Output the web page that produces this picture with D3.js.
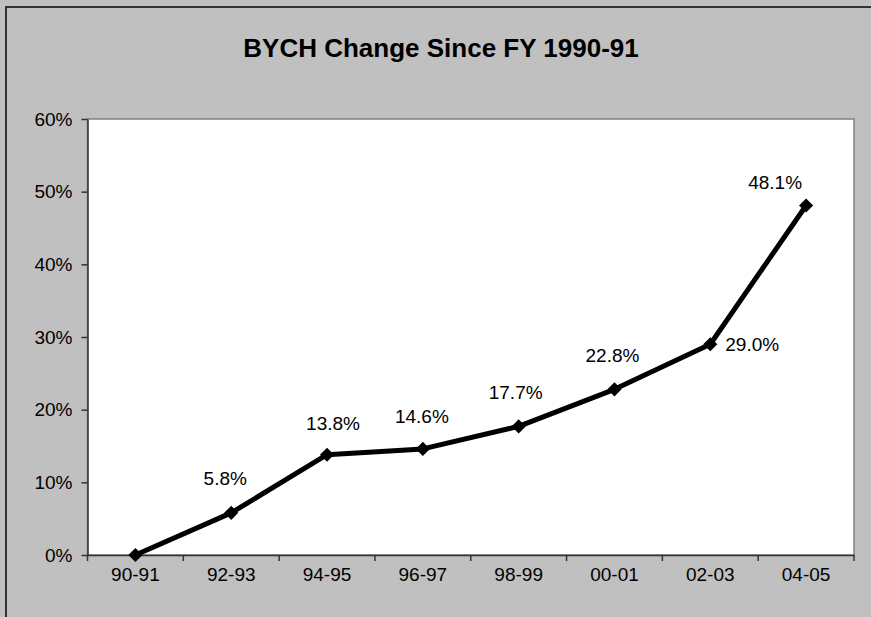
<!DOCTYPE html>
<html>
<head>
<meta charset="utf-8">
<script src="https://cdn.jsdelivr.net/npm/d3@7"></script>
<style>
  html, body { margin: 0; padding: 0; background: #c0c0c0; overflow: hidden; }
  svg { display: block; font-family: Arial, "Liberation Sans", sans-serif; }
</style>
</head>
<body>
<svg id="chart" width="871" height="617"></svg>
<script>
// Chart data
const categories = ['90-91', '92-93', '94-95', '96-97', '98-99', '00-01', '02-03', '04-05'];
const changeValues = [0.0, 0.058, 0.138, 0.146, 0.177, 0.228, 0.290, 0.481];
const yTicks = [0, 0.1, 0.2, 0.3, 0.4, 0.5, 0.6];

// label nudges (Excel labels were moved by hand in the original)
const labelOffsets = {
  '90-91': null,
  '92-93': [-6, -28],
  '94-95': [6, -25],
  '96-97': [-1, -26],
  '98-99': [-3, -27],
  '00-01': [-2, -27],
  '02-03': 'right',
  '04-05': [-31, -16]
};

const width = 871;
const height = 617;
const plot = { left: 87.5, right: 854, top: 119, bottom: 555 };

const svg = d3.select('#chart');

// Background
svg.append('rect')
  .attr('x', 0).attr('y', 0)
  .attr('width', width).attr('height', height)
  .attr('fill', '#c0c0c0');

// Title
svg.append('text')
  .attr('x', 441)
  .attr('y', 57)
  .attr('text-anchor', 'middle')
  .style('font-size', '26px')
  .style('font-weight', 'bold')
  .style('fill', '#000')
  .text('BYCH Change Since FY 1990-91');

// Scales
const x = d3.scaleBand()
  .domain(categories)
  .range([plot.left, plot.right])
  .padding(0);

const y = d3.scaleLinear()
  .domain([0, 0.6])
  .range([plot.bottom, plot.top]);

const cx = c => x(c) + x.bandwidth() / 2;

// Plot area
svg.append('rect')
  .attr('x', plot.left)
  .attr('y', plot.top)
  .attr('width', plot.right - plot.left)
  .attr('height', plot.bottom - plot.top)
  .attr('fill', '#fff')
  .attr('stroke', '#808080')
  .attr('stroke-width', 1.5);

// Y axis
const yAxis = svg.append('g')
  .attr('transform', `translate(${plot.left},0)`)
  .call(d3.axisLeft(y).tickValues(yTicks).tickFormat(d3.format('.0%')).tickSize(6).tickSizeOuter(0).tickPadding(9));
yAxis.select('.domain').attr('stroke', '#333').attr('stroke-width', 1.5);
yAxis.selectAll('.tick line').attr('stroke', '#333').attr('stroke-width', 1.5);
yAxis.selectAll('text')
  .style('font-size', '19px')
  .style('fill', '#000')
  .style('font-family', 'Arial, "Liberation Sans", sans-serif');

// X axis (labels centred in each band, ticks on band edges)
const xAxis = svg.append('g')
  .attr('transform', `translate(0,${plot.bottom})`)
  .call(d3.axisBottom(x).tickSize(0).tickSizeOuter(0).tickPadding(13));
xAxis.select('.domain').attr('stroke', '#333').attr('stroke-width', 1.5);
xAxis.selectAll('text')
  .style('font-size', '19px')
  .style('fill', '#000')
  .style('font-family', 'Arial, "Liberation Sans", sans-serif');

const edges = categories.map(c => x(c)).concat([x.range()[1]]);
svg.append('g')
  .selectAll('line')
  .data(edges)
  .enter().append('line')
  .attr('x1', d => d).attr('x2', d => d)
  .attr('y1', plot.bottom).attr('y2', plot.bottom + 6)
  .attr('stroke', '#333')
  .attr('stroke-width', 1.5);

// Line
const points = categories.map((c, i) => ({ cat: c, value: changeValues[i] }));

const line = d3.line()
  .x(d => cx(d.cat))
  .y(d => y(d.value));

svg.append('path')
  .datum(points)
  .attr('d', line)
  .attr('fill', 'none')
  .attr('stroke', '#000')
  .attr('stroke-width', 5)
  .attr('stroke-linejoin', 'round');

// Diamond markers
svg.selectAll('.marker')
  .data(points)
  .enter().append('path')
  .attr('class', 'marker')
  .attr('d', d3.symbol().type(d3.symbolSquare).size(100))
  .attr('transform', d => `translate(${cx(d.cat)},${y(d.value)}) rotate(45)`)
  .attr('fill', '#000');

// Value labels
const fmt = d3.format('.1%');
svg.selectAll('.label')
  .data(points.filter(d => labelOffsets[d.cat]))
  .enter().append('text')
  .attr('class', 'label')
  .attr('x', d => {
    const o = labelOffsets[d.cat];
    return o === 'right' ? cx(d.cat) + 15 : cx(d.cat) + o[0];
  })
  .attr('y', d => {
    const o = labelOffsets[d.cat];
    return o === 'right' ? y(d.value) + 7 : y(d.value) + o[1];
  })
  .attr('text-anchor', d => labelOffsets[d.cat] === 'right' ? 'start' : 'middle')
  .style('font-size', '19px')
  .style('fill', '#000')
  .text(d => fmt(d.value));

// keep the strip right of the plot clean
svg.append('rect')
  .attr('x', plot.right + 1.5)
  .attr('y', 0)
  .attr('width', width - plot.right)
  .attr('height', height)
  .attr('fill', '#c0c0c0');

// Outer chart frame (top and left edges only, the rest is cut off)
svg.append('path')
  .attr('d', `M6,${height} V7 H${width}`)
  .attr('fill', 'none')
  .attr('stroke', '#333')
  .attr('stroke-width', 2);
</script>
</body>
</html>
